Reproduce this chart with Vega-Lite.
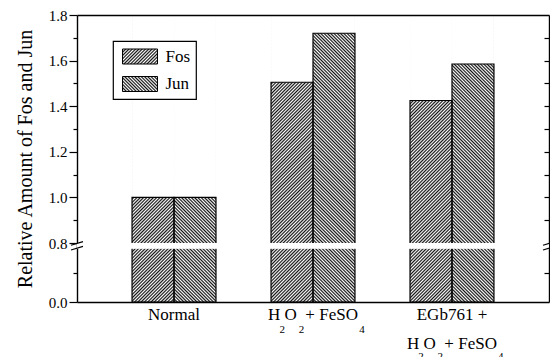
{
  "$schema": "https://vega.github.io/schema/vega-lite/v6.json",
  "width": 472,
  "height": 287,
  "autosize": "none",
  "padding": {"left": 77, "top": 15, "right": 1, "bottom": 55},
  "background": "white",
  "params": [
    {"name": "hatch", "value": [
      {"offset":0,"color":"#111"},{"offset":0.005,"color":"#fff"},{"offset":0.01,"color":"#111"},{"offset":0.015,"color":"#fff"},{"offset":0.02,"color":"#111"},{"offset":0.025,"color":"#fff"},{"offset":0.03,"color":"#111"},{"offset":0.035,"color":"#fff"},{"offset":0.04,"color":"#111"},{"offset":0.045,"color":"#fff"},
      {"offset":0.05,"color":"#111"},{"offset":0.055,"color":"#fff"},{"offset":0.06,"color":"#111"},{"offset":0.065,"color":"#fff"},{"offset":0.07,"color":"#111"},{"offset":0.075,"color":"#fff"},{"offset":0.08,"color":"#111"},{"offset":0.085,"color":"#fff"},{"offset":0.09,"color":"#111"},{"offset":0.095,"color":"#fff"},
      {"offset":0.1,"color":"#111"},{"offset":0.105,"color":"#fff"},{"offset":0.11,"color":"#111"},{"offset":0.115,"color":"#fff"},{"offset":0.12,"color":"#111"},{"offset":0.125,"color":"#fff"},{"offset":0.13,"color":"#111"},{"offset":0.135,"color":"#fff"},{"offset":0.14,"color":"#111"},{"offset":0.145,"color":"#fff"},
      {"offset":0.15,"color":"#111"},{"offset":0.155,"color":"#fff"},{"offset":0.16,"color":"#111"},{"offset":0.165,"color":"#fff"},{"offset":0.17,"color":"#111"},{"offset":0.175,"color":"#fff"},{"offset":0.18,"color":"#111"},{"offset":0.185,"color":"#fff"},{"offset":0.19,"color":"#111"},{"offset":0.195,"color":"#fff"},
      {"offset":0.2,"color":"#111"},{"offset":0.205,"color":"#fff"},{"offset":0.21,"color":"#111"},{"offset":0.215,"color":"#fff"},{"offset":0.22,"color":"#111"},{"offset":0.225,"color":"#fff"},{"offset":0.23,"color":"#111"},{"offset":0.235,"color":"#fff"},{"offset":0.24,"color":"#111"},{"offset":0.245,"color":"#fff"},
      {"offset":0.25,"color":"#111"},{"offset":0.255,"color":"#fff"},{"offset":0.26,"color":"#111"},{"offset":0.265,"color":"#fff"},{"offset":0.27,"color":"#111"},{"offset":0.275,"color":"#fff"},{"offset":0.28,"color":"#111"},{"offset":0.285,"color":"#fff"},{"offset":0.29,"color":"#111"},{"offset":0.295,"color":"#fff"},
      {"offset":0.3,"color":"#111"},{"offset":0.305,"color":"#fff"},{"offset":0.31,"color":"#111"},{"offset":0.315,"color":"#fff"},{"offset":0.32,"color":"#111"},{"offset":0.325,"color":"#fff"},{"offset":0.33,"color":"#111"},{"offset":0.335,"color":"#fff"},{"offset":0.34,"color":"#111"},{"offset":0.345,"color":"#fff"},
      {"offset":0.35,"color":"#111"},{"offset":0.355,"color":"#fff"},{"offset":0.36,"color":"#111"},{"offset":0.365,"color":"#fff"},{"offset":0.37,"color":"#111"},{"offset":0.375,"color":"#fff"},{"offset":0.38,"color":"#111"},{"offset":0.385,"color":"#fff"},{"offset":0.39,"color":"#111"},{"offset":0.395,"color":"#fff"},
      {"offset":0.4,"color":"#111"},{"offset":0.405,"color":"#fff"},{"offset":0.41,"color":"#111"},{"offset":0.415,"color":"#fff"},{"offset":0.42,"color":"#111"},{"offset":0.425,"color":"#fff"},{"offset":0.43,"color":"#111"},{"offset":0.435,"color":"#fff"},{"offset":0.44,"color":"#111"},{"offset":0.445,"color":"#fff"},
      {"offset":0.45,"color":"#111"},{"offset":0.455,"color":"#fff"},{"offset":0.46,"color":"#111"},{"offset":0.465,"color":"#fff"},{"offset":0.47,"color":"#111"},{"offset":0.475,"color":"#fff"},{"offset":0.48,"color":"#111"},{"offset":0.485,"color":"#fff"},{"offset":0.49,"color":"#111"},{"offset":0.495,"color":"#fff"},
      {"offset":0.5,"color":"#111"},{"offset":0.505,"color":"#fff"},{"offset":0.51,"color":"#111"},{"offset":0.515,"color":"#fff"},{"offset":0.52,"color":"#111"},{"offset":0.525,"color":"#fff"},{"offset":0.53,"color":"#111"},{"offset":0.535,"color":"#fff"},{"offset":0.54,"color":"#111"},{"offset":0.545,"color":"#fff"},
      {"offset":0.55,"color":"#111"},{"offset":0.555,"color":"#fff"},{"offset":0.56,"color":"#111"},{"offset":0.565,"color":"#fff"},{"offset":0.57,"color":"#111"},{"offset":0.575,"color":"#fff"},{"offset":0.58,"color":"#111"},{"offset":0.585,"color":"#fff"},{"offset":0.59,"color":"#111"},{"offset":0.595,"color":"#fff"},
      {"offset":0.6,"color":"#111"},{"offset":0.605,"color":"#fff"},{"offset":0.61,"color":"#111"},{"offset":0.615,"color":"#fff"},{"offset":0.62,"color":"#111"},{"offset":0.625,"color":"#fff"},{"offset":0.63,"color":"#111"},{"offset":0.635,"color":"#fff"},{"offset":0.64,"color":"#111"},{"offset":0.645,"color":"#fff"},
      {"offset":0.65,"color":"#111"},{"offset":0.655,"color":"#fff"},{"offset":0.66,"color":"#111"},{"offset":0.665,"color":"#fff"},{"offset":0.67,"color":"#111"},{"offset":0.675,"color":"#fff"},{"offset":0.68,"color":"#111"},{"offset":0.685,"color":"#fff"},{"offset":0.69,"color":"#111"},{"offset":0.695,"color":"#fff"},
      {"offset":0.7,"color":"#111"},{"offset":0.705,"color":"#fff"},{"offset":0.71,"color":"#111"},{"offset":0.715,"color":"#fff"},{"offset":0.72,"color":"#111"},{"offset":0.725,"color":"#fff"},{"offset":0.73,"color":"#111"},{"offset":0.735,"color":"#fff"},{"offset":0.74,"color":"#111"},{"offset":0.745,"color":"#fff"},
      {"offset":0.75,"color":"#111"},{"offset":0.755,"color":"#fff"},{"offset":0.76,"color":"#111"},{"offset":0.765,"color":"#fff"},{"offset":0.77,"color":"#111"},{"offset":0.775,"color":"#fff"},{"offset":0.78,"color":"#111"},{"offset":0.785,"color":"#fff"},{"offset":0.79,"color":"#111"},{"offset":0.795,"color":"#fff"},
      {"offset":0.8,"color":"#111"},{"offset":0.805,"color":"#fff"},{"offset":0.81,"color":"#111"},{"offset":0.815,"color":"#fff"},{"offset":0.82,"color":"#111"},{"offset":0.825,"color":"#fff"},{"offset":0.83,"color":"#111"},{"offset":0.835,"color":"#fff"},{"offset":0.84,"color":"#111"},{"offset":0.845,"color":"#fff"},
      {"offset":0.85,"color":"#111"},{"offset":0.855,"color":"#fff"},{"offset":0.86,"color":"#111"},{"offset":0.865,"color":"#fff"},{"offset":0.87,"color":"#111"},{"offset":0.875,"color":"#fff"},{"offset":0.88,"color":"#111"},{"offset":0.885,"color":"#fff"},{"offset":0.89,"color":"#111"},{"offset":0.895,"color":"#fff"},
      {"offset":0.9,"color":"#111"},{"offset":0.905,"color":"#fff"},{"offset":0.91,"color":"#111"},{"offset":0.915,"color":"#fff"},{"offset":0.92,"color":"#111"},{"offset":0.925,"color":"#fff"},{"offset":0.93,"color":"#111"},{"offset":0.935,"color":"#fff"},{"offset":0.94,"color":"#111"},{"offset":0.945,"color":"#fff"},
      {"offset":0.95,"color":"#111"},{"offset":0.955,"color":"#fff"},{"offset":0.96,"color":"#111"},{"offset":0.965,"color":"#fff"},{"offset":0.97,"color":"#111"},{"offset":0.975,"color":"#fff"},{"offset":0.98,"color":"#111"},{"offset":0.985,"color":"#fff"},{"offset":0.99,"color":"#111"},{"offset":0.995,"color":"#fff"},
      {"offset":1,"color":"#111"}
    ]},
    {"name": "gFos", "expr": "{gradient: 'linear', x1: 0, y1: 0, x2: 0.1642, y2: 1.1223, stops: hatch}"},
    {"name": "gJun", "expr": "{gradient: 'linear', x1: 1, y1: 0, x2: 0.8358, y2: 1.1223, stops: hatch}"},
    {"name": "lFos", "expr": "{gradient: 'linear', x1: 0, y1: 0, x2: 7.9414, y2: 3.4034, stops: hatch}"},
    {"name": "lJun", "expr": "{gradient: 'linear', x1: 1, y1: 0, x2: -6.9414, y2: 3.4034, stops: hatch}"}
  ],
  "data": {"values": [
    {"group": "Normal", "series": "Fos", "value": 1.0},
    {"group": "Normal", "series": "Jun", "value": 1.0},
    {"group": "H2O2 + FeSO4", "series": "Fos", "value": 1.505},
    {"group": "H2O2 + FeSO4", "series": "Jun", "value": 1.72},
    {"group": "EGb761 + H2O2 + FeSO4", "series": "Fos", "value": 1.425},
    {"group": "EGb761 + H2O2 + FeSO4", "series": "Jun", "value": 1.585}
  ]},
  "layer": [
    {
      "layer": [
        {
          "transform": [{"filter": "datum.series === 'Fos'"}],
          "mark": {"type": "bar", "fill": {"expr": "gFos"}, "stroke": null},
          "encoding": {
            "x": {"field": "group", "type": "nominal",
              "scale": {"domain": ["Normal", "H2O2 + FeSO4", "EGb761 + H2O2 + FeSO4"], "paddingInner": 0.396, "paddingOuter": 0.396},
              "axis": {"orient": "bottom", "title": null, "ticks": false, "domainWidth": 1.6, "labelFontSize": 17, "labelPadding": 4, "labelBaseline": "top", "labelLineHeight": 29, "labelAngle": 0, "labelOverlap": false, "labelBound": false, "labelFlush": false, "zindex": 1,
                "labelExpr": "datum.value == 'Normal' ? 'Normal' : datum.value == 'H2O2 + FeSO4' ? 'H\u00a0O\u00a0\u00a0+\u00a0FeSO' : ['EGb761 +', 'H\u00a0O\u00a0\u00a0+\u00a0FeSO']"}},
            "xOffset": {"field": "series", "type": "nominal", "scale": {"domain": ["Fos", "Jun"], "paddingInner": 0, "paddingOuter": 0}},
            "y": {"datum": 1.8, "type": "quantitative",
              "scale": {"domain": [0, 0.8, 1.8], "range": [287, 228, 0], "nice": false, "zero": false},
              "axis": {"orient": "left", "values": [0, 0.8, 1, 1.2, 1.4, 1.6, 1.8], "format": ".1f", "labelFontSize": 15, "labelPadding": 2, "tickSize": 8, "tickWidth": 1.2, "domainWidth": 1.4, "title": "Relative Amount of Fos and Jun", "titleFontSize": 20, "titlePadding": 13, "zindex": 0}},
            "y2": {"datum": 0}
          }
        },
        {
          "transform": [{"filter": "datum.series === 'Jun'"}],
          "mark": {"type": "bar", "fill": {"expr": "gJun"}, "stroke": null},
          "encoding": {
            "x": {"field": "group", "type": "nominal",
              "axis": {"orient": "bottom", "title": null, "ticks": false, "domain": false, "labelFontSize": 11, "labelPadding": 21, "labelOffset": 9, "labelBaseline": "top", "labelAngle": 0, "labelOverlap": false, "labelBound": false, "labelFlush": false, "zindex": 1,
                "labelExpr": "datum.value == 'H2O2 + FeSO4' ? '2\u00a0\u00a0\u00a0\u00a0\u00a02\u00a0\u00a0\u00a0\u00a0\u00a0\u00a0\u00a0\u00a0\u00a0\u00a0\u00a0\u00a0\u00a0\u00a0\u00a0\u00a0\u00a0\u00a0\u00a0\u00a04' : ''"}},
            "xOffset": {"field": "series", "type": "nominal"},
            "y": {"datum": 1.8, "type": "quantitative",
              "axis": {"orient": "left", "values": [0.4, 0.9, 1.1, 1.3, 1.5, 1.7], "labels": false, "domain": false, "tickSize": 4, "tickWidth": 1.2, "title": null, "zindex": 0}},
            "y2": {"datum": 0}
          }
        },
        {
          "mark": {"type": "bar", "fill": "white", "stroke": null},
          "encoding": {
            "x": {"field": "group", "type": "nominal",
              "axis": {"orient": "top", "labels": false, "ticks": false, "title": null, "domainWidth": 1.4, "zindex": 1}},
            "xOffset": {"field": "series", "type": "nominal"},
            "y": {"field": "value", "type": "quantitative",
              "axis": {"orient": "right", "values": [0.4, 0.9, 1, 1.1, 1.2, 1.3, 1.4, 1.5, 1.6, 1.7], "labels": false, "tickSize": -5, "tickWidth": 1.2, "title": null, "domainWidth": 1.4, "zindex": 0}},
            "y2": {"datum": 1.8}
          }
        },
        {
          "mark": {"type": "bar", "filled": false, "stroke": "black", "strokeWidth": 1.2},
          "encoding": {
            "x": {"field": "group", "type": "nominal", "axis": null},
            "xOffset": {"field": "series", "type": "nominal"},
            "y": {"field": "value", "type": "quantitative", "axis": null},
            "y2": {"datum": 0}
          }
        },
        {
          "mark": {"type": "bar", "stroke": null},
          "encoding": {
            "x": {"field": "group", "type": "nominal",
              "axis": {"orient": "bottom", "title": null, "ticks": false, "domain": false, "labelFontSize": 11, "labelPadding": 48, "labelOffset": 9, "labelBaseline": "top", "labelAngle": 0, "labelOverlap": false, "labelBound": false, "labelFlush": false, "zindex": 1,
                "labelExpr": "datum.value == 'EGb761 + H2O2 + FeSO4' ? '2\u00a0\u00a0\u00a0\u00a0\u00a02\u00a0\u00a0\u00a0\u00a0\u00a0\u00a0\u00a0\u00a0\u00a0\u00a0\u00a0\u00a0\u00a0\u00a0\u00a0\u00a0\u00a0\u00a0\u00a0\u00a04' : ''"}},
            "xOffset": {"field": "series", "type": "nominal"},
            "y": {"datum": 0, "type": "quantitative", "axis": null},
            "y2": {"datum": 0},
            "fill": {"field": "series", "type": "nominal",
              "scale": {"domain": ["Fos", "Jun"], "range": [{"expr": "lFos"}, {"expr": "lJun"}]},
              "legend": {"orient": "none", "legendX": 36, "legendY": 26, "title": null,
                "symbolType": "M-1.75,-0.75H1.75V0.75H-1.75Z", "symbolSize": 400, "symbolStrokeWidth": 1, "symbolStrokeColor": "black",
                "labelFont": "Liberation Serif", "labelFontSize": 17, "labelColor": "black",
                "strokeColor": "black", "fillColor": "white", "padding": 5, "rowPadding": 7.5,
                "symbolOffset": 11.5, "labelOffset": 15}}
          }
        },
        {
          "mark": {"type": "rect", "fill": "white"},
          "encoding": {
            "y": {"datum": 0.73, "type": "quantitative", "axis": null},
            "y2": {"datum": 0.795}
          }
        }
      ],
      "resolve": {"axis": {"x": "independent", "y": "independent"}}
    },
    {
      "data": {"values": [{}]},
      "mark": {"type": "point", "shape": "M-1,-0.1L1,-0.7M-1,0.7L1,0.1", "size": 144, "filled": false, "stroke": "black", "strokeWidth": 1.2, "opacity": 1},
      "encoding": {
        "x": {"datum": 0, "type": "quantitative", "scale": {"domain": [0, 1]}, "axis": null},
        "y": {"datum": 0.762, "type": "quantitative", "axis": null}
      }
    },
    {
      "data": {"values": [{}]},
      "mark": {"type": "point", "shape": "M-1,-0.1L1,-0.7M-1,0.7L1,0.1", "size": 144, "filled": false, "stroke": "black", "strokeWidth": 1.2, "opacity": 1},
      "encoding": {
        "x": {"datum": 1, "type": "quantitative", "scale": {"domain": [0, 1]}, "axis": null},
        "y": {"datum": 0.762, "type": "quantitative", "axis": null}
      }
    }
  ],
  "resolve": {"scale": {"x": "independent"}},
  "config": {
    "font": "Liberation Serif",
    "view": {"stroke": null},
    "axis": {"labelFont": "Liberation Serif", "titleFont": "Liberation Serif", "labelColor": "black", "titleColor": "black", "domainColor": "black", "tickColor": "black", "grid": false, "titleFontWeight": "normal"},
    "legend": {"strokeWidth": 1.2}
  }
}
